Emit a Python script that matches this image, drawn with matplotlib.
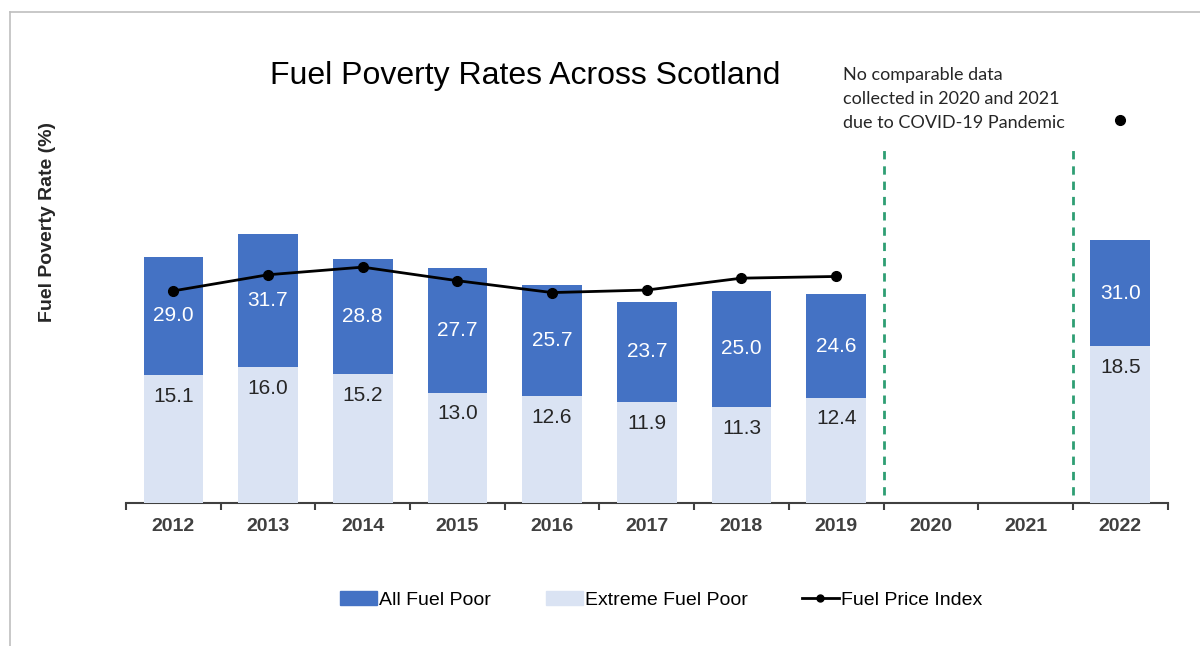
import matplotlib.pyplot as plt
from matplotlib.lines import Line2D
import numpy as np

# Fuel poverty in Scotland, Scottish House Condition Survey
years = ["2012", "2013", "2014", "2015", "2016", "2017", "2018", "2019", "2020", "2021", "2022"]
all_fuel_poor = [29.0, 31.7, 28.8, 27.7, 25.7, 23.7, 25.0, 24.6, np.nan, np.nan, 31.0]
extreme_fuel_poor = [15.1, 16.0, 15.2, 13.0, 12.6, 11.9, 11.3, 12.4, np.nan, np.nan, 18.5]
# price index drawn on the same (hidden) scale as the bars
fuel_price_index = [25.0, 26.9, 27.8, 26.2, 24.8, 25.1, 26.5, 26.7, np.nan, np.nan, 45.2]

dark_blue = "#4472C4"
light_blue = "#DAE3F3"
green = "#2E9E73"
grey_text = "#404040"

fig = plt.figure(figsize=(12, 6.46), dpi=100)
ax = fig.add_axes([0.105, 0.2214, 0.868, 0.6238])

x = np.arange(len(years))
w = 0.63
ax.bar(x, all_fuel_poor, width=w, color=dark_blue, label="All Fuel Poor", zorder=2)
ax.bar(x, extreme_fuel_poor, width=w, color=light_blue, label="Extreme Fuel Poor", zorder=3)

ax.plot(x, fuel_price_index, color="black", lw=2, marker="o", ms=7, zorder=4)

# data labels
for xi, a, e in zip(x, all_fuel_poor, extreme_fuel_poor):
    if np.isnan(a):
        continue
    ax.text(xi, max((a + e) / 2, e + 5.5), f"{a:.1f}", ha="center", va="center",
            color="white", fontsize=15, family="Liberation Sans", zorder=5)
    ax.text(xi, e - 2.5, f"{e:.1f}", ha="center", va="center",
            color="#262626", fontsize=15, family="Liberation Sans", zorder=5)

# gap in the series for the COVID years
for xb in (7.5, 9.5):
    ax.plot([xb, xb], [0.9, 42.0], color=green, lw=2, ls=(0, (3, 2.5)), zorder=1)

ax.text(7.07, 51.4, "No comparable data\ncollected in 2020 and 2021\ndue to COVID-19 Pandemic",
        ha="left", va="top", fontsize=13, family="Lato", color="#262626", linespacing=1.6)

ax.set_xlim(-0.5, len(years) - 0.5)
ax.set_ylim(0, 47.5)
ax.set_yticks([])
for s in ("top", "right", "left"):
    ax.spines[s].set_visible(False)
ax.spines["bottom"].set_color("#404040")
ax.spines["bottom"].set_linewidth(1.5)

ax.set_xticks(x)
ax.set_xticklabels(years, fontsize=14, fontweight="bold", color=grey_text, family="Liberation Sans")
ax.tick_params(axis="x", which="major", length=0, pad=11)
ax.set_xticks(np.arange(-0.5, len(years)), minor=True)
ax.tick_params(axis="x", which="minor", length=5, width=1.5, color="#404040", direction="out")

fig.text(0.0395, 0.656, "Fuel Poverty Rate (%)", rotation=90, ha="center", va="center",
         fontsize=14, fontweight="bold", color="#262626", family="Liberation Sans")

fig.text(0.4375, 0.882, "Fuel Poverty Rates Across Scotland", ha="center", va="center",
         fontsize=23, family="Liberation Sans", color="black")

handles = [
    plt.Rectangle((0, 0), 1, 1, color=dark_blue),
    plt.Rectangle((0, 0), 1, 1, color=light_blue),
    Line2D([], [], color="black", lw=2, marker="o", ms=5),
]
labels = ["All Fuel Poor", "Extreme Fuel Poor", "Fuel Price Index"]
fig.legend(handles, labels, loc="center", bbox_to_anchor=(0.551, 1 - 600 / 646), ncol=3,
           frameon=False, handlelength=1.9, handleheight=0.7, handletextpad=0.1,
           columnspacing=2.8, prop={"family": "Liberation Sans", "size": 14})

# thin frame along the top and left edges
fig.add_artist(Line2D([0.0083, 1], [0.9814, 0.9814], color="#BFBFBF", lw=1.2, transform=fig.transFigure))
fig.add_artist(Line2D([0.0083, 0.0083], [0, 0.9814], color="#BFBFBF", lw=1.2, transform=fig.transFigure))

fig.savefig("out.png", dpi=100)
